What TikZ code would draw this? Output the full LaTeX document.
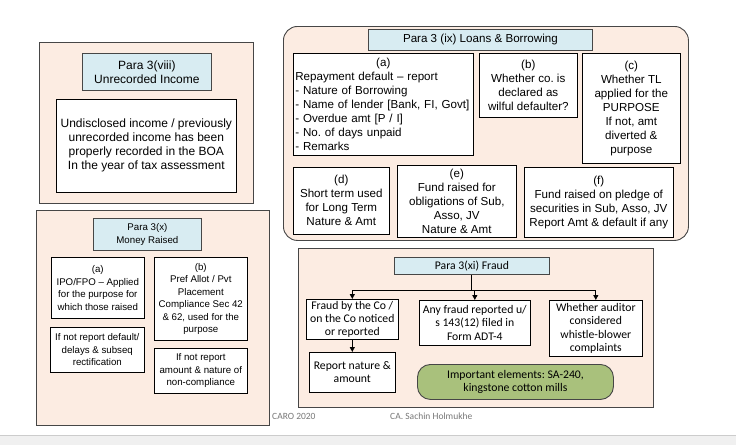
\documentclass[tikz,border=0pt]{standalone}
\usepackage{fontspec}
\setmainfont{Liberation Sans}
\newfontfamily\calfont{Carlito}
\usetikzlibrary{arrows.meta}
\frenchspacing
\definecolor{peach}{RGB}{252,236,226}
\definecolor{ltblue}{RGB}{216,236,242}
\definecolor{framegray}{RGB}{70,70,70}
\definecolor{leaf}{RGB}{169,193,124}
\definecolor{footgray}{RGB}{120,120,120}
\tikzset{
  panel/.style={draw=framegray, line width=0.9pt, fill=peach, anchor=north west, inner sep=0pt},
  titlebox/.style={draw=framegray, line width=0.8pt, fill=ltblue, anchor=north west, inner sep=0pt, align=center},
  txtbox/.style={draw=black, line width=0.6pt, fill=white, anchor=north west, inner sep=0pt, align=center},
  big/.style={font=\fontsize{11.6}{14}\selectfont},
  bigger/.style={font=\fontsize{12}{14}\selectfont},
  small/.style={font=\fontsize{9.7}{12.5}\selectfont},
  calb/.style={font=\calfont\fontsize{11.7}{13.3}\selectfont},
  arr/.style={-{Triangle[width=5pt,length=5pt]}, line width=0.9pt},
  bus/.style={line width=0.9pt}
}
\begin{document}
\begin{tikzpicture}[x=1pt,y=-1pt]
\useasboundingbox (0,0) rectangle (736,445);
\fill[white] (0,0) rectangle (736,445);
\fill[black!6] (0,435) rectangle (736,445);
\draw[black!20, line width=0.8pt] (0,435) -- (736,435);

% Para 3(viii)
\node[panel, minimum width=214pt, minimum height=161pt] (p8) at (39,42) {};
\node[titlebox, bigger, minimum width=129pt, minimum height=37pt] (t8) at (82,53) {Para 3(viii)\\Unrecorded Income};
\node[txtbox, bigger, minimum width=180pt, minimum height=93pt] (x8) at (56,99) {Undisclosed income / previously\\unrecorded income has been\\properly recorded in the BOA\\In the year of tax assessment};

% Para 3(ix)
\node[panel, rounded corners=14pt, minimum width=405pt, minimum height=214pt] (p9) at (283,26) {};
\node[titlebox, big, minimum width=224pt, minimum height=21pt] (t9) at (368,29) {Para 3 (ix) Loans \& Borrowing};
\node[txtbox, big, align=left, text width=176pt, minimum width=180pt, minimum height=102pt] (la) at (293,53) {\makebox[176pt]{(a)}\\Repayment default -- report\\- Nature of Borrowing\\- Name of lender [Bank, FI, Govt]\\- Overdue amt [P / I]\\- No. of days unpaid\\- Remarks};
\node[txtbox, big, minimum width=98pt, minimum height=64pt] (lb) at (479,53) {(b)\\Whether co. is\\declared as\\wilful defaulter?};
\node[txtbox, big, minimum width=98pt, minimum height=110pt] (lc) at (582,53) {(c)\\Whether TL\\applied for the\\PURPOSE\\If not, amt\\diverted \&\\purpose};
\node[txtbox, big, minimum width=96pt, minimum height=67pt] (ld) at (293,167) {(d)\\Short term used\\for Long Term\\Nature \& Amt};
\node[txtbox, big, minimum width=119pt, minimum height=72pt] (le) at (397,165) {(e)\\Fund raised for\\obligations of Sub,\\Asso, JV\\Nature \& Amt};
\node[txtbox, big, minimum width=149pt, minimum height=70pt] (lf) at (524,167) {(f)\\Fund raised on pledge of\\securities in Sub, Asso, JV\\Report Amt \& default if any};

% Para 3(x)
\node[panel, minimum width=233pt, minimum height=215pt] (p10) at (36,210) {};
\node[titlebox, small, minimum width=108pt, minimum height=32pt] (t10) at (93,218) {Para 3(x)\\Money Raised};
\node[txtbox, small, minimum width=93pt, minimum height=61pt] (ma) at (51,257) {(a)\\IPO/FPO -- Applied\\for the purpose for\\which those raised};
\node[txtbox, small, minimum width=94pt, minimum height=45pt] (mna) at (50,327) {If not report default/\\delays \& subseq\\rectification};
\node[txtbox, small, minimum width=93pt, minimum height=83pt] (mb) at (154,257) {(b)\\Pref Allot / Pvt\\Placement\\Compliance Sec 42\\\& 62, used for the\\purpose};
\node[txtbox, small, minimum width=93pt, minimum height=45pt] (mnb) at (154,348) {If not report\\amount \& nature of\\non-compliance};

% Para 3(xi)
\node[panel, minimum width=355pt, minimum height=159pt] (p11) at (298,248) {};
\node[titlebox, calb, minimum width=155pt, minimum height=17pt] (t11) at (394,257) {Para 3(xi) Fraud};
\node[txtbox, calb, minimum width=92pt, minimum height=40pt] (f1) at (306,299) {Fraud by the Co /\\on the Co noticed\\or reported};
\node[txtbox, calb, minimum width=86pt, minimum height=40pt] (f1r) at (309,352) {Report nature \&\\amount};
\node[txtbox, calb, minimum width=111pt, minimum height=45pt] (f2) at (419,300) {Any fraud reported u/\\s 143(12) filed in\\Form ADT-4};
\node[txtbox, calb, minimum width=93pt, minimum height=56pt] (f3) at (549,300) {Whether auditor\\considered\\whistle-blower\\complaints};
\node[draw=framegray, line width=0.9pt, fill=leaf, rounded corners=13pt, anchor=north west, inner sep=0pt, align=center, calb, minimum width=196pt, minimum height=35pt] (imp) at (417,364) {Important elements: SA-240,\\kingstone cotton mills};

\coordinate (busy) at (0,290);
\draw[bus] (t11.south) -- (t11.south |- busy);
\draw[bus] (f1.north |- busy) -- (f3.north |- busy);
\draw[arr] (f1.north |- busy) -- (f1.north);
\draw[arr] (f2.north |- busy) -- (f2.north);
\draw[arr] (f3.north |- busy) -- (f3.north);
\draw[arr] (f1.south) -- (f1r.north);

% footer
\node[font=\calfont\fontsize{9.5}{10}\selectfont, text=footgray, anchor=west, inner sep=0pt] (foot1) at (272,416) {CARO 2020};
\node[font=\calfont\fontsize{9.5}{10}\selectfont, text=footgray, anchor=west, inner sep=0pt] (foot2) at (390,416) {CA. Sachin Holmukhe};
\end{tikzpicture}
\end{document}
